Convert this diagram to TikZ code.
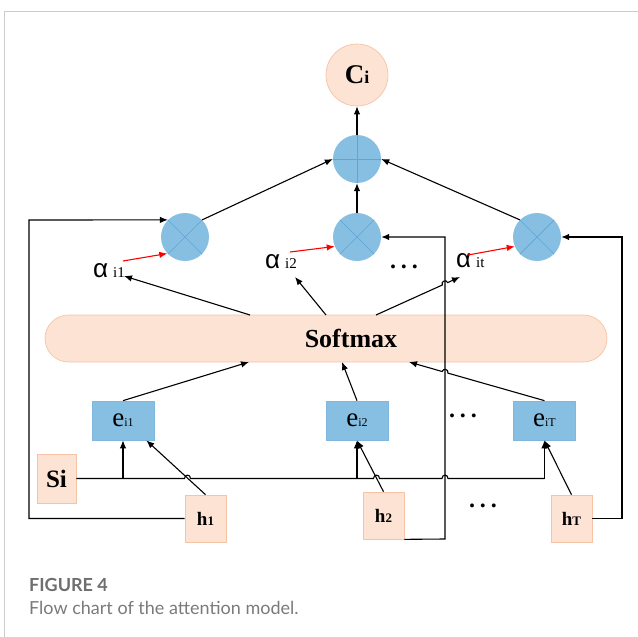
\documentclass[tikz,border=0pt]{standalone}
\usepackage{fontspec}
\setmainfont{Liberation Serif}
\newfontfamily\alphafont{Liberation Sans}
\newfontfamily\capfont{Lato}
\usetikzlibrary{arrows.meta,calc}
\definecolor{peach}{HTML}{FDE3D4}
\definecolor{peachline}{HTML}{F6C3A6}
\definecolor{bluef}{HTML}{86BFE2}
\definecolor{bluel}{HTML}{5FA5D6}
\definecolor{capgrey}{HTML}{6E6E6E}
\definecolor{capgrey2}{HTML}{7A7A7A}
\definecolor{framec}{HTML}{CCCCCC}
\begin{document}
\begin{tikzpicture}[x=1pt,y=-1pt,
  conn/.style={draw=black,line width=1.1pt},
  arr/.style={conn,-{Latex[length=8pt,width=6.5pt]}},
  redarr/.style={draw=red,line width=1.1pt,-{Latex[length=8pt,width=6.5pt]}},
  peachbox/.style={rectangle,fill=peach,draw=peachline,line width=0.7pt,inner sep=0pt},
  bluebox/.style={rectangle,fill=bluef,draw=bluel!80,line width=0.7pt,inner sep=0pt,minimum width=62pt,minimum height=39pt},
  opnode/.style={circle,fill=bluef,draw=none,minimum size=48pt,inner sep=0pt},
  oplines/.style={draw=bluel,line width=0.7pt},
  dots/.style={inner sep=0pt,font=\fontsize{24}{24}\selectfont\bfseries},
  alab/.style={inner sep=0pt,anchor=base west},
]
\useasboundingbox (0,0) rectangle (638,637);
\draw[framec,line width=1pt] (4,637) -- (4,11) -- (638,11);

% top
\node[circle,fill=peach,draw=peachline,line width=0.7pt,minimum size=62pt,inner sep=0pt] (ci) at (357,75)
  {\fontsize{27}{27}\selectfont\bfseries C\fontsize{18}{18}\selectfont i};
\node[opnode] (sum) at (357,159) {};
\draw[oplines] (sum.north)--(sum.south) (sum.west)--(sum.east);
\foreach \n/\x in {m1/185,m2/357,m3/537}{
  \node[opnode] (\n) at (\x,237) {};
  \draw[oplines] (\n.north west)--(\n.south east) (\n.north east)--(\n.south west);
}

% alpha labels
\node[alab] (a1) at (93,277) {{\alphafont\fontsize{26}{26}\selectfont α}\hspace{5pt}{\fontsize{15}{15}\selectfont i1}};
\node[alab] (a2) at (265,268) {{\alphafont\fontsize{26}{26}\selectfont α}\hspace{5pt}{\fontsize{15}{15}\selectfont i2}};
\node[alab] (a3) at (456,267) {{\alphafont\fontsize{26}{26}\selectfont α}\hspace{5pt}{\fontsize{15}{15}\selectfont it}};
\node[dots] (d1) at (404,267) {.\hspace{5pt}.\hspace{5pt}.};

% softmax
\node[peachbox,minimum width=562pt,minimum height=47pt,rounded corners=23.5pt] (soft) at (326,338.5) {};
\node[inner sep=0pt] (softtxt) at (351,338) {\fontsize{26}{26}\selectfont\bfseries Softmax};

% e boxes
\node[bluebox] (e1) at (123,420.5) {\fontsize{27}{27}\selectfont e\fontsize{12}{12}\selectfont i1};
\node[bluebox] (e2) at (357,420.5) {\fontsize{27}{27}\selectfont e\fontsize{12}{12}\selectfont i2};
\node[bluebox] (e3) at (544.5,420.5) {\fontsize{27}{27}\selectfont e\fontsize{12}{12}\selectfont iT};
\node[dots] (d2) at (463,416) {.\hspace{5pt}.\hspace{5pt}.};

% Si and h boxes
\node[peachbox,minimum width=39pt,minimum height=49pt] (si) at (56.5,478.5) {\fontsize{25}{25}\selectfont\bfseries Si};
\node[peachbox,minimum width=41pt,minimum height=47pt] (h1) at (205.5,518.5) {\fontsize{19}{19}\selectfont\bfseries h\fontsize{13}{13}\selectfont 1};
\node[peachbox,minimum width=41pt,minimum height=47pt] (h2) at (383.5,515.5) {\fontsize{19}{19}\selectfont\bfseries h\fontsize{13}{13}\selectfont 2};
\node[peachbox,minimum width=41pt,minimum height=47pt] (hT) at (571.5,518.5) {\fontsize{19}{19}\selectfont\bfseries h\fontsize{13}{13}\selectfont T};
\node[dots] (d3) at (483,506) {.\hspace{5pt}.\hspace{5pt}.};

% coordinates
\coordinate (sa1) at (250,315);
\coordinate (sa2) at (326,315);
\coordinate (sa3) at (376,315);
\coordinate (ta1) at (124,276);
\coordinate (ta2) at (295,277);
\coordinate (ta3) at (460,277);
\coordinate (se1) at (249,362);
\coordinate (se2) at (342,362);
\coordinate (se3) at (409,362);
\coordinate (r1) at (123,261);
\coordinate (r2) at (290,252);
\coordinate (r3) at (468,255);
\coordinate (fbL) at (29,220);
\coordinate (fbM) at (445,539);
\coordinate (fbR) at (622,518.5);
\coordinate (siend) at (544.5,478.5);

% upper connectors
\draw[arr] (sum) -- (ci);
\draw[arr] (m2) -- (sum);
\draw[arr] (m1.north east) -- (sum.west);
\draw[arr] (m3.north west) -- (sum.east);
\draw[redarr] (r1) -- (m1.223);
\draw[redarr] (r2) -- (m2.203);
\draw[redarr] (r3) -- (m3.203);

% softmax to alphas
\draw[arr] (sa1) -- (ta1);
\draw[arr] (sa2) -- (ta2);
\draw[arr] (sa3) -- (442.3,285.0) .. controls (440.7,281.4) and (446.1,279.0) .. (447.7,282.6) -- (ta3);

% e to softmax
\draw[arr] (e1.north) -- (se1);
\draw[arr] (e2.north) -- (se2);
\draw[arr] (e3.north) -- (447.9,373.1) .. controls (449.0,369.3) and (443.2,367.7) .. (442.1,371.5) -- (se3);

% Si line
\draw[conn] (si.east) -- (184.5,478.5) .. controls (184.5,474) and (190.5,474) .. (190.5,478.5)
  -- (373.5,478.5) .. controls (373.5,474) and (379.5,474) .. (379.5,478.5)
  -- (442,478.5) .. controls (442,474) and (448,474) .. (448,478.5) -- (siend);
\draw[arr] (siend) -- (e3.south);
\draw[arr] (123,478.5) -- (e1.south);
\draw[arr] (357,478.5) -- (e2.south);

% h to e
\draw[arr] (h1.north) -- ([xshift=-8pt]e1.south east);
\draw[arr] (h2.north) -- (e2.south);
\draw[arr] (hT.north) -- (e3.south);

% feedback lines
\draw[arr] (h1.west) -| (fbL) -- (m1.north west);
\draw[arr] (h2.south east) -- (fbM) |- (m2.east);
\draw[arr] (hT.east) -- (fbR) |- (m3.east);

% caption
\node[anchor=west,inner sep=0pt,text=capgrey] (fig) at (29,585) {\capfont\bfseries\fontsize{18}{18}\selectfont FIGURE 4};
\node[anchor=west,inner sep=0pt,text=capgrey2] (cap) at (29,608) {\capfont\fontsize{18}{18}\selectfont Flow chart of the attention model.};
\end{tikzpicture}
\end{document}
